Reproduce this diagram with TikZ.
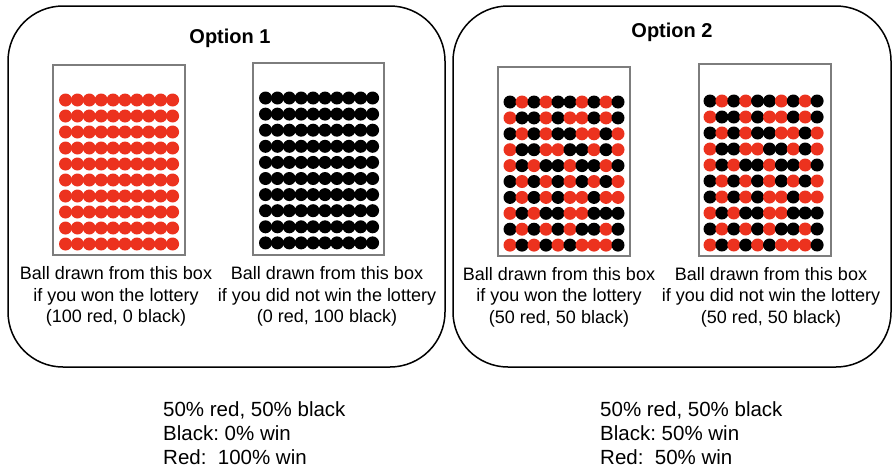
\documentclass[tikz,border=0pt]{standalone}
\usepackage{fontspec}
\setmainfont{Liberation Sans}
\frenchspacing
\definecolor{ballred}{RGB}{236,50,30}
\definecolor{boxgray}{RGB}{125,125,125}
\tikzset{
  optionbox/.style={draw=black, line width=1.5pt, rounded corners=55pt},
  urn/.style={draw=boxgray, line width=1.3pt},
  captiontext/.style={anchor=north, align=center, inner sep=0pt, font=\fontsize{18}{21.5}\selectfont},
  titletext/.style={anchor=base, inner sep=0pt, font=\fontsize{20}{24}\selectfont\bfseries},
  summarytext/.style={anchor=north west, align=left, inner sep=0pt, font=\fontsize{20.5}{24}\selectfont}
}
\def\mixpattern{{0,1,0,1,0,0,1,0,1,0},{1,0,0,1,0,1,1,0,1,0},{0,1,0,1,0,0,1,1,0,1},{1,0,0,1,1,0,0,1,0,1},{1,0,1,0,0,1,0,0,1,0},{0,1,0,1,0,1,0,1,0,1},{0,1,0,1,0,1,1,0,1,1},{1,0,1,0,0,1,1,0,0,0},{0,1,0,1,0,1,0,0,1,0},{1,0,1,0,1,0,1,1,1,0}}
% #1 x0, #2 y0, #3 dx, #4 dy, #5 colour
\newcommand\solidballgrid[5]{%
  \foreach \r in {0,...,9}{\foreach \k in {0,...,9}{%
    \fill[#5] ({#1+\k*#3},{#2+\r*#4}) circle (6.5);}}}
\newcommand\mixballgrid[4]{%
  \foreach \rw [count=\r from 0] in \mixpattern {\foreach \c [count=\k from 0] in \rw {%
    \ifnum\c=1 \fill[ballred] ({#1+\k*#3},{#2+\r*#4}) circle (6.5);%
    \else \fill[black] ({#1+\k*#3},{#2+\r*#4}) circle (6.5);\fi}}}
\begin{document}
\begin{tikzpicture}[x=1pt,y=-1pt]
\useasboundingbox (0,0) rectangle (893,469);
% outer option frames
\draw[optionbox] (8,6) rectangle (445,367);
\draw[optionbox] (453,6) rectangle (891,367);
\node[titletext] (t1) at (230,43) {Option 1};
\node[titletext] (t2) at (672,37) {Option 2};
% urns
\draw[urn] (53,65) rectangle (185,255);
\draw[urn] (253,63) rectangle (384,255);
\draw[urn] (498,67) rectangle (630,256);
\draw[urn] (699,64) rectangle (831,256);
% balls
\solidballgrid{65.5}{100}{11.9}{16}{ballred}
\solidballgrid{265.5}{98}{11.9}{16.1}{black}
\mixballgrid{510}{102}{12}{15.9}
\mixballgrid{710}{101}{11.9}{16}
% captions
\node[captiontext] (c11) at (116,266.5) {Ball drawn from this box\\if you won the lottery\\(100 red, 0 black)};
\node[captiontext] (c12) at (327,266.5) {Ball drawn from this box\\if you did not win the lottery\\(0 red, 100 black)};
\node[captiontext] (c21) at (559,267) {Ball drawn from this box\\if you won the lottery\\(50 red, 50 black)};
\node[captiontext] (c22) at (771,267) {Ball drawn from this box\\if you did not win the lottery\\(50 red, 50 black)};
% summaries
\node[summarytext] (s1) at (163,401) {50\% red, 50\% black\\Black: 0\% win\\Red:\ \ 100\% win};
\node[summarytext] (s2) at (600,401) {50\% red, 50\% black\\Black: 50\% win\\Red:\ \ 50\% win};
\end{tikzpicture}
\end{document}
